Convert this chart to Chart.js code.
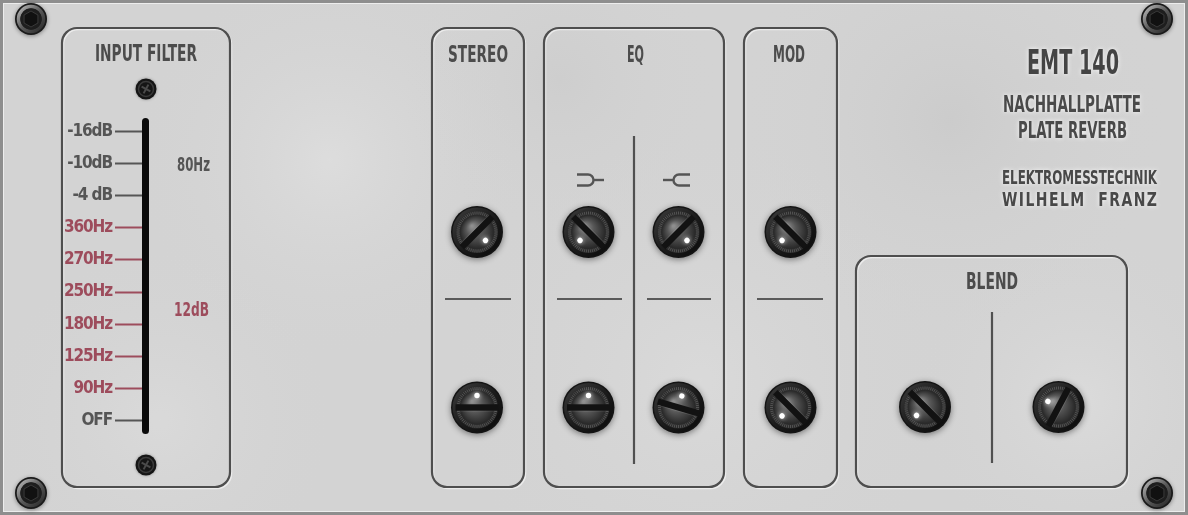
<!DOCTYPE html>
<html><head><meta charset="utf-8">
<script src="https://cdn.jsdelivr.net/npm/chart.js@4/dist/chart.umd.min.js"></script>
<style>
html,body{margin:0;padding:0;background:#d4d4d4;overflow:hidden}
#wrap{position:relative;width:1188px;height:515px}
</style>
</head><body>
<div id="wrap"><canvas id="c"></canvas></div>
<script>
// ---------------- data ----------------
const filterTicks = ['-16dB', '-10dB', '-4 dB', '360Hz', '270Hz', '250Hz', '180Hz', '125Hz', '90Hz', 'OFF'];
const filterReadout = ['80Hz', '12dB'];
const moduleTitles = ['INPUT FILTER', 'STEREO', 'EQ', 'MOD', 'BLEND'];
// knob settings, 0 = fully left (7 o'clock), 1 = fully right (5 o'clock)
const upperKnobValues = [1.0, 0.0, 1.0, 0.0];   // STEREO, EQ low, EQ high, MOD
const lowerKnobValues = [0.5, 0.5, 0.56, 0.0];  // STEREO, EQ low, EQ high, MOD
const blendKnobValues = [0.0, 0.27];
const badgeLines = ['EMT 140', 'NACHHALLPLATTE', 'PLATE REVERB', 'ELEKTROMESSTECHNIK', 'WILHELM  FRANZ'];

// ---------------- styles ----------------
const FONT = "'Liberation Sans Narrow','DejaVu Sans Condensed','Roboto Condensed','Roboto',sans-serif";
const RED = '#9d4c5c', GRAY = '#555555', INK = '#4c4c4c';
const tickColor = i => /Hz$/.test(filterTicks[i]) ? RED : GRAY;

function rr(ctx, x, y, w, h, r) {
  ctx.beginPath();
  ctx.moveTo(x + r, y);
  ctx.arcTo(x + w, y, x + w, y + h, r);
  ctx.arcTo(x + w, y + h, x, y + h, r);
  ctx.arcTo(x, y + h, x, y, r);
  ctx.arcTo(x, y, x + w, y, r);
  ctx.closePath();
}
function capText(ctx, text, cx, top, capH, width, color, glow) {
  ctx.save();
  ctx.font = `bold ${capH / 0.72}px ${FONT}`;
  ctx.textAlign = 'left'; ctx.textBaseline = 'alphabetic';
  const w = ctx.measureText(text).width;
  ctx.translate(cx - width / 2, top + capH);
  ctx.scale(width / w, 1);
  if (glow) { ctx.shadowColor = 'rgba(255,255,255,0.9)'; ctx.shadowBlur = 4; }
  ctx.fillStyle = color;
  ctx.fillText(text, 0, 0);
  ctx.restore();
}
function spacedText(ctx, text, x0, x1, top, capH, sx, color, glow) {
  ctx.save();
  ctx.font = `bold ${capH / 0.72}px ${FONT}`;
  ctx.textAlign = 'left'; ctx.textBaseline = 'alphabetic';
  ctx.fillStyle = color;
  if (glow) { ctx.shadowColor = 'rgba(255,255,255,0.9)'; ctx.shadowBlur = 4; }
  const ch = [...text];
  const ws = ch.map(c => ctx.measureText(c).width * sx);
  const tot = ws.reduce((a, b) => a + b, 0);
  const gap = (x1 - x0 - tot) / (ch.length - 1);
  let x = x0;
  ch.forEach((c, i) => {
    ctx.save(); ctx.translate(x, top + capH); ctx.scale(sx, 1); ctx.fillText(c, 0, 0); ctx.restore();
    x += ws[i] + gap;
  });
  ctx.restore();
}
function panel(ctx, x, y, w, h) {
  ctx.save();
  rr(ctx, x + 1.5, y + 1.5, w, h, 15);
  ctx.strokeStyle = 'rgba(255,255,255,0.55)'; ctx.lineWidth = 1.5; ctx.stroke();
  rr(ctx, x, y, w, h, 15);
  ctx.strokeStyle = '#4e4e4e'; ctx.lineWidth = 2.2; ctx.stroke();
  ctx.restore();
}
function line(ctx, x1, y1, x2, y2, w, c) {
  ctx.save(); ctx.beginPath(); ctx.moveTo(x1, y1); ctx.lineTo(x2, y2);
  ctx.strokeStyle = c; ctx.lineWidth = w; ctx.stroke(); ctx.restore();
}
function fork(ctx, x, y, dir) {
  ctx.save();
  ctx.translate(x, y); ctx.scale(dir, 1);
  ctx.strokeStyle = '#555'; ctx.lineWidth = 2.4; ctx.lineCap = 'butt';
  ctx.beginPath();
  ctx.moveTo(-11, -5.5); ctx.lineTo(0, -5.5);
  ctx.arc(0, 0, 5.5, -Math.PI / 2, Math.PI / 2);
  ctx.lineTo(-11, 5.5);
  ctx.stroke();
  ctx.beginPath(); ctx.moveTo(5.5, 0); ctx.lineTo(16, 0); ctx.stroke();
  ctx.restore();
}
function knob(ctx, cx, cy, v) {
  const a = (-135 + 270 * v) * Math.PI / 180;
  ctx.save();
  ctx.translate(cx, cy);
  ctx.save();
  ctx.shadowColor = 'rgba(0,0,0,0.45)'; ctx.shadowBlur = 6; ctx.shadowOffsetY = 1.5;
  ctx.beginPath(); ctx.arc(0, 0, 26, 0, Math.PI * 2); ctx.fillStyle = '#141414'; ctx.fill();
  ctx.restore();
  let g = ctx.createLinearGradient(-24, -24, 24, 24);
  g.addColorStop(0, '#3c3c3c'); g.addColorStop(0.5, '#1c1c1c'); g.addColorStop(1, '#0a0a0a');
  ctx.beginPath(); ctx.arc(0, 0, 24.5, 0, Math.PI * 2); ctx.fillStyle = g; ctx.fill();
  ctx.beginPath(); ctx.arc(0, 0, 21, 0, Math.PI * 2); ctx.fillStyle = '#2c2c2c'; ctx.fill();
  ctx.strokeStyle = 'rgba(120,120,120,0.5)'; ctx.lineWidth = 1;
  for (let i = 0; i < 60; i++) {
    const t = i / 60 * Math.PI * 2;
    ctx.beginPath();
    ctx.moveTo(Math.cos(t) * 17.5, Math.sin(t) * 17.5);
    ctx.lineTo(Math.cos(t) * 20.5, Math.sin(t) * 20.5);
    ctx.stroke();
  }
  g = ctx.createRadialGradient(-5, -6, 1, 0, 0, 17);
  g.addColorStop(0, '#8e8e8e'); g.addColorStop(0.45, '#575757'); g.addColorStop(1, '#272727');
  ctx.beginPath(); ctx.arc(0, 0, 16.8, 0, Math.PI * 2); ctx.fillStyle = g; ctx.fill();
  ctx.rotate(a);
  ctx.fillStyle = '#121212';
  ctx.fillRect(-21.5, -3.2, 43, 6.4);
  ctx.fillStyle = 'rgba(255,255,255,0.12)';
  ctx.fillRect(-20, 3.2, 40, 0.8);
  ctx.save();
  ctx.shadowColor = 'rgba(255,255,255,0.95)'; ctx.shadowBlur = 5;
  ctx.beginPath(); ctx.arc(0, -12, 2.7, 0, Math.PI * 2); ctx.fillStyle = '#ffffff'; ctx.fill();
  ctx.restore();
  ctx.restore();
}
function cornerScrew(ctx, cx, cy) {
  ctx.save(); ctx.translate(cx, cy);
  ctx.save();
  ctx.shadowColor = 'rgba(0,0,0,0.4)'; ctx.shadowBlur = 4; ctx.shadowOffsetY = 1;
  ctx.beginPath(); ctx.arc(0, 0, 16, 0, Math.PI * 2); ctx.fillStyle = '#1a1a1a'; ctx.fill();
  ctx.restore();
  const g = ctx.createLinearGradient(-12, -12, 12, 12);
  g.addColorStop(0, '#b4b4b4'); g.addColorStop(0.5, '#5a5a5a'); g.addColorStop(1, '#2a2a2a');
  ctx.beginPath(); ctx.arc(0, 0, 12.5, 0, Math.PI * 2); ctx.strokeStyle = g; ctx.lineWidth = 3.5; ctx.stroke();
  ctx.beginPath(); ctx.arc(0, 0, 10.5, 0, Math.PI * 2); ctx.fillStyle = '#1e1e1e'; ctx.fill();
  ctx.beginPath();
  for (let i = 0; i < 6; i++) {
    const t = i / 6 * Math.PI * 2 + Math.PI / 6;
    const px = Math.cos(t) * 8, py = Math.sin(t) * 8;
    i ? ctx.lineTo(px, py) : ctx.moveTo(px, py);
  }
  ctx.closePath(); ctx.fillStyle = '#111'; ctx.fill();
  ctx.strokeStyle = '#3a3a3a'; ctx.lineWidth = 1; ctx.stroke();
  ctx.restore();
}
function smallScrew(ctx, cx, cy) {
  ctx.save(); ctx.translate(cx, cy);
  ctx.save();
  ctx.shadowColor = 'rgba(0,0,0,0.35)'; ctx.shadowBlur = 3;
  ctx.beginPath(); ctx.arc(0, 0, 10.5, 0, Math.PI * 2); ctx.fillStyle = '#151515'; ctx.fill();
  ctx.restore();
  ctx.beginPath(); ctx.arc(0, 0, 7.5, 0, Math.PI * 2); ctx.strokeStyle = '#3a3a3a'; ctx.lineWidth = 1.5; ctx.stroke();
  ctx.rotate(0.5);
  ctx.strokeStyle = '#4a4a4a'; ctx.lineWidth = 2;
  ctx.beginPath(); ctx.moveTo(-5, 0); ctx.lineTo(5, 0); ctx.moveTo(0, -5); ctx.lineTo(0, 5); ctx.stroke();
  ctx.restore();
}

const panelPlugin = {
  id: 'plate',
  beforeDraw(chart) {
    const ctx = chart.ctx, W = chart.width, H = chart.height;
    ctx.letterSpacing = '0px';
    ctx.save();
    ctx.fillStyle = '#d3d3d3'; ctx.fillRect(0, 0, W, H);
    // mottled metal texture (style only)
    [[330, 160, 200, 'rgba(255,255,255,0.22)'], [700, 380, 260, 'rgba(255,255,255,0.15)'],
     [950, 120, 220, 'rgba(170,170,170,0.18)'], [160, 420, 180, 'rgba(255,255,255,0.15)'],
     [560, 80, 160, 'rgba(175,175,175,0.14)'], [1080, 400, 170, 'rgba(255,255,255,0.18)']].forEach(([x, y, r, c]) => {
      const g = ctx.createRadialGradient(x, y, 0, x, y, r);
      g.addColorStop(0, c); g.addColorStop(1, 'rgba(211,211,211,0)');
      ctx.fillStyle = g; ctx.fillRect(0, 0, W, H);
    });
    ctx.strokeStyle = '#8e8e8e'; ctx.lineWidth = 3; ctx.strokeRect(1.5, 1.5, W - 3, H - 3);
    ctx.strokeStyle = 'rgba(255,255,255,0.6)'; ctx.lineWidth = 1; ctx.strokeRect(3.5, 3.5, W - 7, H - 7);

    panel(ctx, 62, 28, 168, 459);
    panel(ctx, 432, 28, 92, 459);
    panel(ctx, 544, 28, 180, 459);
    panel(ctx, 744, 28, 93, 459);
    panel(ctx, 856, 256, 271, 231);

    capText(ctx, moduleTitles[0], 146, 45, 16, 102, INK);
    capText(ctx, moduleTitles[1], 478, 45, 16.5, 60, INK);
    capText(ctx, moduleTitles[2], 635.5, 45, 16.5, 17, INK);
    capText(ctx, moduleTitles[3], 789, 45, 16.5, 32, INK);
    capText(ctx, moduleTitles[4], 992, 273, 16, 52, INK);

    line(ctx, 445, 299, 511, 299, 2, '#5a5a5a');
    line(ctx, 557, 299, 622, 299, 2, '#5a5a5a');
    line(ctx, 647, 299, 711, 299, 2, '#5a5a5a');
    line(ctx, 757, 299, 823, 299, 2, '#5a5a5a');
    line(ctx, 634, 136, 634, 464, 2.2, '#505050');
    line(ctx, 992, 312, 992, 463, 2.2, '#505050');
    fork(ctx, 588, 180, 1);
    fork(ctx, 679, 180, -1);

    capText(ctx, badgeLines[0], 1073, 50, 24, 92, '#444', true);
    capText(ctx, badgeLines[1], 1072, 96, 16, 138, '#4a4a4a', true);
    capText(ctx, badgeLines[2], 1072.5, 122, 16, 109, '#4a4a4a', true);
    capText(ctx, badgeLines[3], 1079.5, 170, 14, 155, '#484848', true);
    spacedText(ctx, badgeLines[4], 1002, 1157, 192, 14, 0.8, '#484848', true);

    const ys = chart.scales.y;
    capText(ctx, filterReadout[0], 193.5, ys.getPixelForValue(1) - 7, 14, 33, GRAY);
    capText(ctx, filterReadout[1], 191.5, (ys.getPixelForValue(5) + ys.getPixelForValue(6)) / 2 - 7, 14.5, 35, RED);
    ctx.restore();
    // condensed spacing for the axis labels drawn next by Chart.js
    ctx.letterSpacing = '-1.1px';
  },
  afterDraw(chart) {
    const ctx = chart.ctx, a = chart.chartArea;
    ctx.letterSpacing = '0px';
    ctx.save();
    rr(ctx, a.left - 3, a.top + 2.5, 7, a.bottom - a.top - 5, 3.5);
    ctx.fillStyle = '#0a0a0a'; ctx.fill();
    ctx.restore();
    smallScrew(ctx, 146, 89);
    smallScrew(ctx, 146, 465);

    const cols = [477, 588.5, 678.5, 790.5];
    upperKnobValues.forEach((v, i) => knob(ctx, cols[i], 232, v));
    lowerKnobValues.forEach((v, i) => knob(ctx, cols[i], 407.5, v));
    const bcols = [925, 1058.5];
    blendKnobValues.forEach((v, i) => knob(ctx, bcols[i], 407, v));

    cornerScrew(ctx, 31, 19);
    cornerScrew(ctx, 1157, 19);
    cornerScrew(ctx, 31, 493);
    cornerScrew(ctx, 1157, 493);
  }
};

new Chart(document.getElementById('c'), {
  type: 'scatter',
  data: { datasets: [] },
  options: {
    responsive: true,
    maintainAspectRatio: false,
    animation: false,
    events: [],
    layout: { padding: { left: 20, right: 1042, top: 115.5, bottom: 78.5 } },
    plugins: { legend: { display: false }, tooltip: { enabled: false }, title: { display: false } },
    scales: {
      x: { type: 'linear', display: false, min: 0, max: 1 },
      y: {
        type: 'category',
        labels: filterTicks,
        position: 'left',
        offset: true,
        afterFit: s => { s.width = 125; },
        border: { display: false },
        grid: {
          display: true, drawOnChartArea: false, drawTicks: true, offset: false,
          tickLength: 30, tickWidth: 2,
          tickColor: c => tickColor(c.index), color: c => tickColor(c.index)
        },
        ticks: {
          autoSkip: false, padding: 3,
          color: c => tickColor(c.index),
          font: { family: FONT, size: 17, weight: 'bold' }
        }
      }
    }
  },
  plugins: [panelPlugin]
});
</script>
</body></html>
